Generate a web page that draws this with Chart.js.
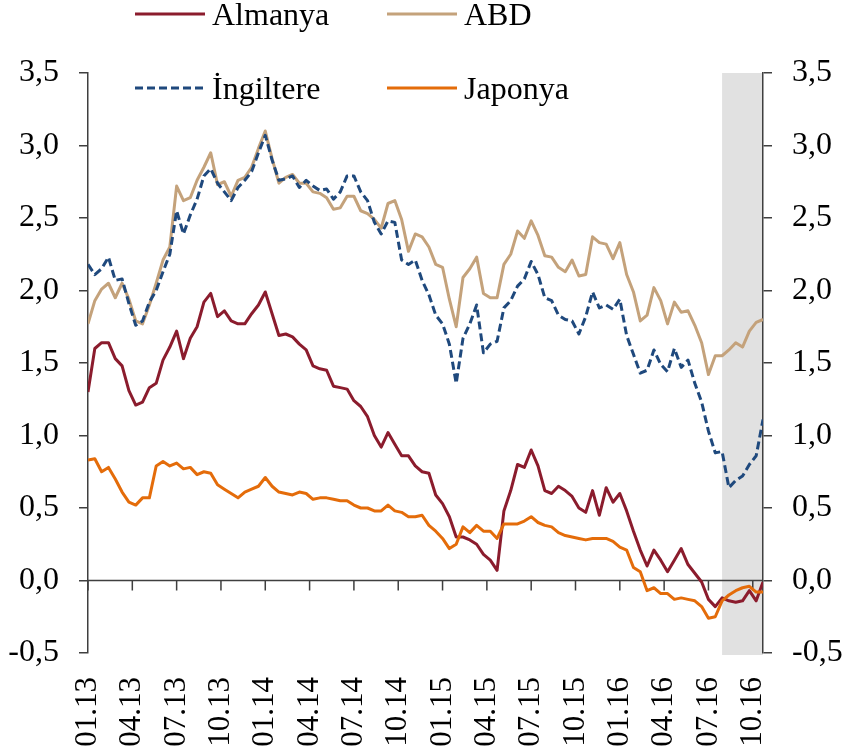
<!DOCTYPE html>
<html>
<head>
<meta charset="utf-8">
<title>10 yıllık tahvil faizleri</title>
<script src="https://cdn.jsdelivr.net/npm/chart.js@4.4.0/dist/chart.umd.min.js"></script>
<style>
  html, body { margin: 0; padding: 0; background: #fff; }
</style>
</head>
<body>
<canvas id="faizChart" width="842" height="756"></canvas>
<script>
// veriler: iki haftalık gözlemler, 01.13 - 11.16 (yüzde)
var tickLabels = ['01.13', '04.13', '07.13', '10.13', '01.14', '04.14', '07.14', '10.14',
                  '01.15', '04.15', '07.15', '10.15', '01.16', '04.16', '07.16', '10.16'];
var WEEK_STEP = 2;      // her gözlem arası hafta
var TICK_WEEKS = 13;    // çeyrek = 13 hafta
var LAST_WEEK = 198;
var shadeFrom = 186;    // gölgeli dönem başlangıcı (hafta)

var almanya = [
  1.30, 1.60, 1.64, 1.64, 1.53, 1.48, 1.31, 1.21, 1.23, 1.33,
  1.36, 1.52, 1.61, 1.72, 1.53, 1.67, 1.75, 1.92, 1.98, 1.82,
  1.86, 1.79, 1.77, 1.77, 1.84, 1.90, 1.99, 1.84, 1.69, 1.70,
  1.68, 1.63, 1.59, 1.48, 1.46, 1.45, 1.34, 1.33, 1.32, 1.24,
  1.20, 1.13, 1.00, 0.92, 1.02, 0.94, 0.86, 0.86, 0.79, 0.75,
  0.74, 0.59, 0.53, 0.44, 0.30, 0.30, 0.28, 0.25, 0.18, 0.14,
  0.07, 0.48, 0.62, 0.80, 0.78, 0.90, 0.79, 0.62, 0.60, 0.65,
  0.62, 0.58, 0.50, 0.47, 0.62, 0.45, 0.64, 0.54, 0.60, 0.48,
  0.34, 0.21, 0.10, 0.21, 0.14, 0.06, 0.14, 0.22, 0.11, 0.05,
  -0.01, -0.13, -0.18, -0.12, -0.14, -0.15, -0.14, -0.07, -0.14, -0.01
];
var abd = [
  1.77, 1.93, 2.01, 2.05, 1.95, 2.05, 1.94, 1.79, 1.77, 1.90,
  2.05, 2.21, 2.30, 2.72, 2.62, 2.64, 2.76, 2.85, 2.95, 2.73,
  2.75, 2.65, 2.76, 2.78, 2.85, 2.98, 3.10, 2.91, 2.74, 2.78,
  2.80, 2.74, 2.74, 2.68, 2.67, 2.64, 2.56, 2.57, 2.65, 2.65,
  2.55, 2.53, 2.49, 2.43, 2.60, 2.62, 2.49, 2.27, 2.39, 2.37,
  2.30, 2.18, 2.16, 1.94, 1.75, 2.09, 2.15, 2.23, 1.98, 1.95,
  1.95, 2.18, 2.25, 2.41, 2.36, 2.48, 2.38, 2.24, 2.23, 2.16,
  2.13, 2.21, 2.10, 2.11, 2.37, 2.33, 2.32, 2.22, 2.33, 2.11,
  1.99, 1.79, 1.83, 2.02, 1.93, 1.77, 1.92, 1.85, 1.86, 1.76,
  1.64, 1.42, 1.55, 1.55, 1.59, 1.64, 1.61, 1.72, 1.78, 1.80
];
var ingiltere = [
  2.18, 2.11, 2.15, 2.23, 2.07, 2.08, 1.91, 1.76, 1.79, 1.92,
  2.00, 2.13, 2.25, 2.55, 2.39, 2.52, 2.63, 2.79, 2.84, 2.74,
  2.68, 2.62, 2.71, 2.76, 2.82, 2.95, 3.07, 2.90, 2.76, 2.77,
  2.79, 2.71, 2.76, 2.72, 2.69, 2.70, 2.63, 2.68, 2.79, 2.79,
  2.68, 2.62, 2.47, 2.39, 2.48, 2.47, 2.21, 2.18, 2.21, 2.07,
  1.97, 1.83, 1.77, 1.63, 1.36, 1.67, 1.77, 1.90, 1.57, 1.63,
  1.65, 1.88, 1.93, 2.03, 2.08, 2.20, 2.11, 1.95, 1.93, 1.83,
  1.80, 1.79, 1.70, 1.82, 1.99, 1.88, 1.90, 1.87, 1.94, 1.69,
  1.56, 1.43, 1.45, 1.59, 1.49, 1.44, 1.60, 1.47, 1.52, 1.36,
  1.23, 1.03, 0.88, 0.89, 0.64, 0.69, 0.72, 0.80, 0.86, 1.11
];
var japonya = [
  0.83, 0.84, 0.75, 0.78, 0.70, 0.61, 0.54, 0.52, 0.57, 0.57,
  0.79, 0.82, 0.79, 0.81, 0.77, 0.78, 0.73, 0.75, 0.74, 0.66,
  0.63, 0.60, 0.57, 0.61, 0.63, 0.65, 0.71, 0.65, 0.61, 0.60,
  0.59, 0.61, 0.60, 0.56, 0.57, 0.57, 0.56, 0.55, 0.55, 0.52,
  0.50, 0.50, 0.48, 0.48, 0.52, 0.48, 0.47, 0.44, 0.44, 0.45,
  0.38, 0.34, 0.29, 0.22, 0.25, 0.37, 0.33, 0.38, 0.34, 0.34,
  0.29, 0.39, 0.39, 0.39, 0.41, 0.44, 0.40, 0.38, 0.37, 0.33,
  0.31, 0.30, 0.29, 0.28, 0.29, 0.29, 0.29, 0.27, 0.23, 0.21,
  0.09, 0.06, -0.07, -0.05, -0.09, -0.09, -0.13, -0.12, -0.13, -0.14,
  -0.18, -0.26, -0.25, -0.14, -0.10, -0.07, -0.05, -0.04, -0.08, -0.08
];

var axisColor = '#3f3f3f';
var serif = 'Liberation Serif';

function toPoints(arr) {
    return arr.map(function(v, i) { return { x: i * WEEK_STEP, y: v }; });
}

// gölgeli alan
var shadePlugin = {
    id: 'shade',
    beforeDraw: function(chart) {
        var ctx = chart.ctx, a = chart.chartArea, x = chart.scales.x;
        var x0 = x.getPixelForValue(shadeFrom);
        ctx.save();
        ctx.fillStyle = '#e1e1e1';
        ctx.fillRect(x0, a.top, a.right - x0, a.bottom - a.top + 2);
        ctx.restore();
    }
};

// sıfır çizgisi ve çeyrek işaretleri
var zeroLinePlugin = {
    id: 'zeroLine',
    beforeDatasetsDraw: function(chart) {
        var ctx = chart.ctx, a = chart.chartArea;
        var y0 = chart.scales.y.getPixelForValue(0);
        ctx.save();
        ctx.strokeStyle = axisColor;
        ctx.lineWidth = 1.5;
        ctx.beginPath();
        ctx.moveTo(a.left, y0);
        ctx.lineTo(a.right, y0);
        chart.scales.x.ticks.forEach(function(t) {
            var px = chart.scales.x.getPixelForValue(t.value);
            ctx.moveTo(px, y0);
            ctx.lineTo(px, y0 + 10);
        });
        ctx.stroke();
        ctx.restore();
    }
};

// lejant (grafik alanının üstüne taşıyor)
var legendPlugin = {
    id: 'ustLejant',
    afterDraw: function(chart) {
        var ctx = chart.ctx;
        chart.data.datasets.forEach(function(ds, i) {
            var x = 135 + (i % 2) * 252;
            var y = 14 + Math.floor(i / 2) * 74;
            ctx.save();
            ctx.strokeStyle = ds.borderColor;
            ctx.lineWidth = 3;
            ctx.setLineDash(ds.borderDash || []);
            ctx.beginPath();
            ctx.moveTo(x, y);
            ctx.lineTo(x + 70, y);
            ctx.stroke();
            ctx.setLineDash([]);
            ctx.fillStyle = '#000';
            ctx.font = '32px "' + serif + '"';
            ctx.textBaseline = 'alphabetic';
            ctx.fillText(ds.label, x + 77, y + 11);
            ctx.restore();
        });
    }
};

var yTicks = {
    stepSize: 0.5,
    padding: 20,
    color: '#000',
    font: { family: serif, size: 32 },
    callback: function(v) { return v.toFixed(1).replace('.', ','); }
};

var ctx = document.getElementById('faizChart').getContext('2d');
var faizChart = new Chart(ctx, {
    type: 'line',
    data: {
        datasets: [{
            label: 'Almanya',
            data: toPoints(almanya),
            borderColor: '#8b1c2d',
            order: 3
        }, {
            label: 'ABD',
            data: toPoints(abd),
            borderColor: '#c4a27b',
            order: 2
        }, {
            label: 'İngiltere',
            data: toPoints(ingiltere),
            borderColor: '#1f497d',
            borderDash: [8, 4],
            order: 0
        }, {
            label: 'Japonya',
            data: toPoints(japonya),
            borderColor: '#e46c0a',
            order: 1
        }]
    },
    options: {
        responsive: false,
        animation: false,
        elements: {
            line: { borderWidth: 3, tension: 0, borderJoinStyle: 'round' },
            point: { radius: 0 }
        },
        layout: { padding: { top: 73, left: 0, right: 0, bottom: 0 } },
        plugins: {
            legend: { display: false },
            tooltip: { enabled: false }
        },
        scales: {
            x: {
                type: 'linear',
                min: 0,
                max: LAST_WEEK,
                border: { display: false },
                grid: { display: false, drawTicks: false },
                ticks: {
                    stepSize: TICK_WEEKS,
                    includeBounds: false,
                    autoSkip: false,
                    minRotation: 90,
                    maxRotation: 90,
                    padding: 24,
                    color: '#000',
                    font: { family: serif, size: 31 },
                    callback: function(v) {
                        return v % TICK_WEEKS === 0 ? tickLabels[v / TICK_WEEKS] : null;
                    }
                },
                afterFit: function(s) { s.height = 103; }
            },
            y: {
                position: 'left',
                min: -0.5,
                max: 3.5,
                ticks: yTicks,
                grid: { drawOnChartArea: false, tickLength: 9, color: axisColor, lineWidth: 1.5 },
                border: { color: axisColor, width: 1.5 },
                afterFit: function(s) { s.width = 88; }
            },
            y1: {
                position: 'right',
                min: -0.5,
                max: 3.5,
                ticks: yTicks,
                grid: { drawOnChartArea: false, tickLength: 9, color: axisColor, lineWidth: 1.5 },
                border: { color: axisColor, width: 1.5 },
                afterFit: function(s) { s.width = 79; }
            }
        }
    },
    plugins: [shadePlugin, zeroLinePlugin, legendPlugin]
});
</script>
</body>
</html>
